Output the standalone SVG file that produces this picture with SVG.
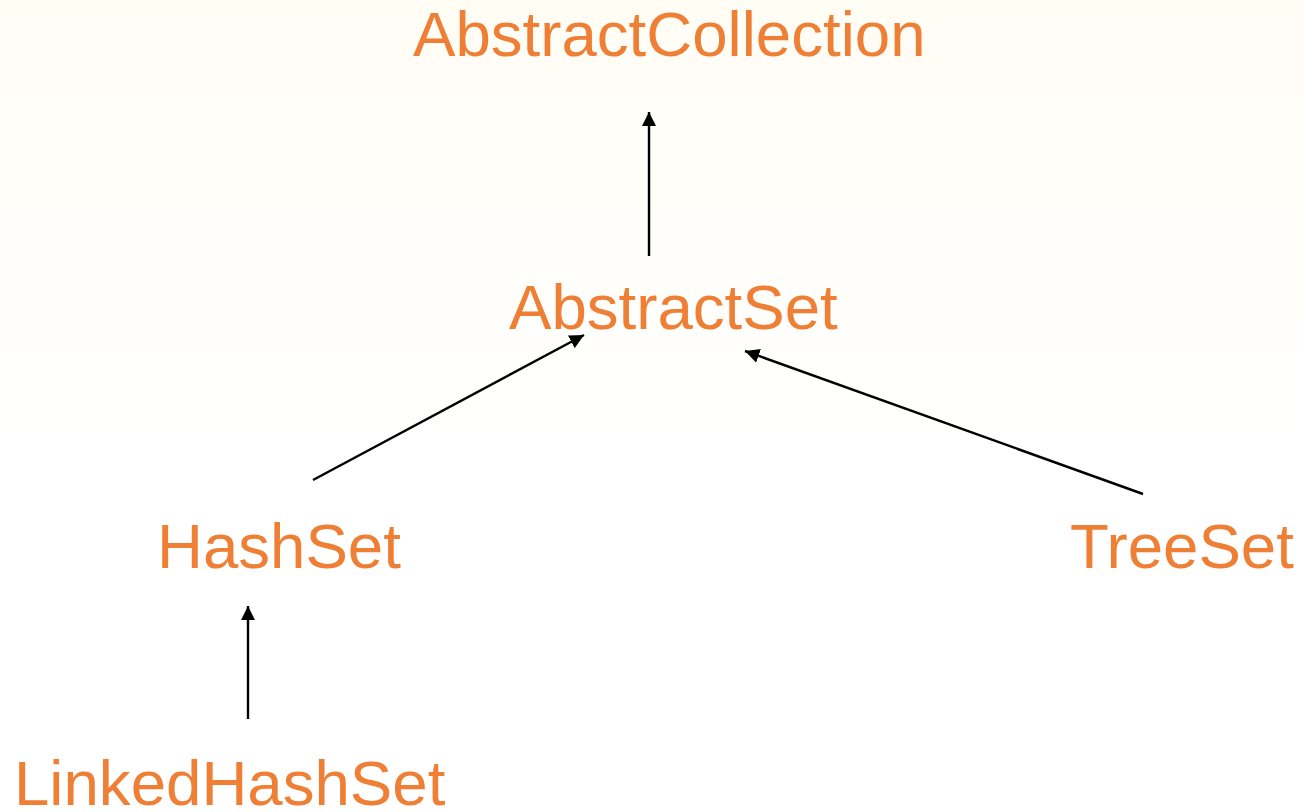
<svg xmlns="http://www.w3.org/2000/svg" width="1303" height="812" viewBox="0 0 1303 812">
  <style>
    .cls { font-family: "Liberation Sans", Arial, sans-serif; font-size: 63.6px; fill: #EE7F35; }
    .edge { stroke: #000; stroke-width: 2.4; fill: none; marker-end: url(#tip); }
  </style>
  <defs>
    <linearGradient id="bg" x1="0" y1="0" x2="0" y2="1">
      <stop offset="0" stop-color="#FFFDF4"/>
      <stop offset="0.55" stop-color="#FFFFFF"/>
      <stop offset="1" stop-color="#FFFFFF"/>
    </linearGradient>
    <marker id="tip" viewBox="0 0 10 10" refX="10" refY="5" markerWidth="6" markerHeight="6" markerUnits="strokeWidth" orient="auto">
      <path d="M0,0 L10,5 L0,10 Z" fill="#000"/>
    </marker>
  </defs>
  <rect width="1303" height="812" fill="url(#bg)"/>

  <g id="connectors">
    <line class="edge" x1="649" y1="256" x2="649" y2="112"/>
    <line class="edge" x1="313" y1="480" x2="584" y2="335"/>
    <line class="edge" x1="1143" y1="494" x2="745" y2="351"/>
    <line class="edge" x1="248" y1="719" x2="248" y2="606"/>
  </g>

  <g id="AbstractCollection"><text class="cls" x="413" y="56">AbstractCollection</text></g>
  <g id="AbstractSet"><text class="cls" x="509" y="329">AbstractSet</text></g>
  <g id="HashSet"><text class="cls" x="157" y="568">HashSet</text></g>
  <g id="TreeSet"><text class="cls" x="1070" y="568">TreeSet</text></g>
  <g id="LinkedHashSet"><text class="cls" x="14" y="805">LinkedHashSet</text></g>
</svg>
